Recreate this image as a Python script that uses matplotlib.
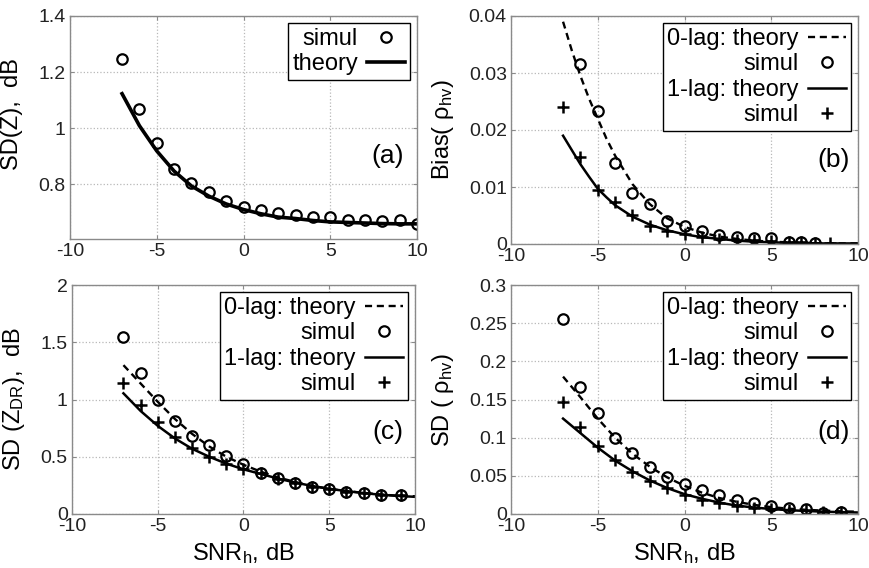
import matplotlib
matplotlib.use("Agg")
import matplotlib.pyplot as plt

plt.rcParams['font.family'] = ['Liberation Sans', 'DejaVu Sans']
plt.rcParams['mathtext.fontset'] = 'custom'
plt.rcParams['mathtext.rm'] = 'Liberation Sans'
plt.rcParams['mathtext.it'] = 'Liberation Sans:italic'

# (a) SD(Z)
a_x = [-7, -6, -5, -4, -3, -2, -1, 0, 1, 2, 3, 4, 5, 6, 7, 8, 9, 10]
a_simul = [1.245, 1.069, 0.949, 0.854, 0.806, 0.773, 0.742, 0.719, 0.708,
           0.698, 0.692, 0.683, 0.683, 0.674, 0.672, 0.668, 0.671, 0.66]
a_theory = [1.123, 1.009, 0.919, 0.847, 0.794, 0.758, 0.730, 0.710, 0.695,
            0.683, 0.678, 0.671, 0.666, 0.664, 0.662, 0.660, 0.659, 0.659]

# (b) Bias(rho_hv)
b_tx = [-7, -6.5, -6, -5.5, -5, -4.5, -4, -3, -2, -1, 0, 1, 2, 3, 4, 5, 6, 7, 8, 10]
b_theory0 = [0.039, 0.034, 0.0295, 0.0255, 0.022, 0.0185, 0.0155, 0.0105, 0.007,
             0.0045, 0.003, 0.002, 0.0013, 0.0009, 0.0006, 0.0004, 0.0003,
             0.0002, 0.0001, 0.0001]
b_theory1 = [0.019, 0.0165, 0.014, 0.0118, 0.0097, 0.0082, 0.0068, 0.0048, 0.0034,
             0.0024, 0.0017, 0.0012, 0.0009, 0.0006, 0.0004, 0.0003, 0.0002,
             0.00015, 0.0001, 0.0001]
b_x0 = [-6, -5, -4, -3, -2, -1, 0, 1, 2, 3, 4, 5, 6, 6.7, 7.5]
b_simul0 = [0.0315, 0.0233, 0.0142, 0.0089, 0.007, 0.004, 0.0032, 0.0022, 0.0016,
            0.0013, 0.0011, 0.0011, 0.0004, 0.0003, 0.0002]
b_x1 = [-7, -6, -5, -4, -3, -2, -1, 0, 1, 2, 3, 4, 5, 6, 6.7, 7.5, 8.4]
b_simul1 = [0.0241, 0.0153, 0.0095, 0.0074, 0.0051, 0.0032, 0.0023, 0.0017, 0.0013,
            0.0008, 0.0007, 0.0007, 0.0005, 0.0003, 0.0003, 0.0002, 0.0002]

# (c) SD(Z_DR)
c_tx = [-7, -6, -5, -4, -3, -2, -1, 0, 1, 2, 3, 4, 5, 6, 7, 8, 9, 10]
c_theory0 = [1.30, 1.14, 0.98, 0.83, 0.70, 0.59, 0.50, 0.43, 0.37, 0.32, 0.28,
             0.245, 0.22, 0.20, 0.185, 0.17, 0.16, 0.155]
c_theory1 = [1.054, 0.90, 0.77, 0.66, 0.57, 0.50, 0.44, 0.39, 0.35, 0.31, 0.275,
             0.245, 0.22, 0.20, 0.183, 0.168, 0.158, 0.15]
c_x = [-7, -6, -5, -4, -3, -2, -1, 0, 1, 2, 3, 4, 5, 6, 7, 8, 9.2]
c_simul0 = [1.549, 1.229, 1.0, 0.812, 0.684, 0.60, 0.507, 0.434, 0.355, 0.312,
            0.273, 0.238, 0.218, 0.195, 0.186, 0.166, 0.166]
c_simul1 = [1.141, 0.952, 0.806, 0.675, 0.574, 0.50, 0.434, 0.39, 0.355, 0.31,
            0.27, 0.235, 0.215, 0.192, 0.185, 0.165, 0.163]

# (d) SD(rho_hv)
d_tx = [-7, -6, -5, -4, -3, -2, -1, 0, 1, 2, 3, 4, 5, 6, 7, 8, 9, 10]
d_theory0 = [0.18, 0.153, 0.125, 0.10, 0.079, 0.062, 0.048, 0.037, 0.028, 0.021,
             0.016, 0.012, 0.009, 0.007, 0.0055, 0.0045, 0.0035, 0.003]
d_theory1 = [0.125, 0.106, 0.087, 0.070, 0.056, 0.044, 0.034, 0.026, 0.020, 0.015,
             0.011, 0.0085, 0.0065, 0.005, 0.004, 0.003, 0.0025, 0.002]
d_x = [-7, -6, -5, -4, -3, -2, -1, 0, 1, 2, 3, 4, 5, 6, 7, 8, 9]
d_simul0 = [0.255, 0.166, 0.132, 0.099, 0.080, 0.061, 0.049, 0.039, 0.031, 0.025,
            0.018, 0.014, 0.011, 0.0083, 0.0062, 0.0017, 0.0026]
d_simul1 = [0.147, 0.114, 0.089, 0.071, 0.0555, 0.0436, 0.0337, 0.0249, 0.0183,
            0.014, 0.0105, 0.0075, 0.0066, 0.0052, 0.0052, 0.0022, 0.0022]

x_ticks = [-10, -5, 0, 5, 10]
x_ticklabels = ['-10', '-5', '0', '5', '10']

W, H = 869, 568
fig = plt.figure(figsize=(W / 100, H / 100), dpi=100)


def make_axes(left, top, right, bottom):
    return fig.add_axes([left / W, 1 - bottom / H, (right - left) / W, (bottom - top) / H])


def style(ax, ylim, yticks, yticklabels):
    ax.set_xlim(-10, 10)
    ax.set_ylim(*ylim)
    ax.set_xticks(x_ticks)
    ax.set_xticklabels(x_ticklabels)
    ax.set_yticks(yticks)
    ax.set_yticklabels(yticklabels)
    ax.grid(True, color='#b8b8b8', linestyle=':', linewidth=0.9)
    ax.set_axisbelow(True)
    for s in ax.spines.values():
        s.set_color('#8a8a8a')
        s.set_linewidth(1.0)
    ax.tick_params(direction='in', length=3, width=0.8, color='#8a8a8a',
                   top=True, right=True, labelsize=14, labelcolor='#222222', pad=3)


mk_circle = dict(linestyle='none', marker='o', markersize=7.5, markerfacecolor='none',
                 markeredgecolor='black', markeredgewidth=1.6)
mk_plus = dict(linestyle='none', marker='+', markersize=9, markeredgecolor='black',
               markeredgewidth=1.8)
dash_style = dict(color='black', linestyle=(0, (3.0, 2.0)), linewidth=1.7)
solid_style = dict(color='black', linestyle='-', linewidth=1.8)

leg_kw = dict(loc='upper right', markerfirst=False, fancybox=False, framealpha=1,
              edgecolor='black', fontsize=17, handlelength=1.6, handletextpad=0.4,
              borderpad=0.2, labelspacing=0.15, borderaxespad=0.3)

# ---- (a)
ax = make_axes(70, 16, 417, 239)
style(ax, (0.605, 1.4), [0.8, 1.0, 1.2, 1.4], ['0.8', '1', '1.2', '1.4'])
h1, = ax.plot(a_x, a_simul, **mk_circle, label='simul')
h2, = ax.plot(a_x, a_theory, color='black', linewidth=2.6, label='theory')
leg = ax.legend(handles=[h1, h2], **leg_kw)
leg.get_frame().set_linewidth(1.0)
ax.text(8.3, 0.9, '(a)', fontsize=19, ha='center', va='center')
ax.set_ylabel('SD(Z),  dB', fontsize=17)
ax.yaxis.set_label_coords(-0.135, 0.56)

# ---- (b)
ax = make_axes(511, 16, 858, 244)
style(ax, (0, 0.04), [0, 0.01, 0.02, 0.03, 0.04], ['0', '0.01', '0.02', '0.03', '0.04'])
h1, = ax.plot(b_tx, b_theory0, **dash_style, label='0-lag: theory')
h2, = ax.plot(b_x0, b_simul0, **mk_circle, label='simul')
h3, = ax.plot(b_tx, b_theory1, **solid_style, label='1-lag: theory')
h4, = ax.plot(b_x1, b_simul1, **mk_plus, label='simul')
leg = ax.legend(handles=[h1, h2, h3, h4], **leg_kw)
leg.get_frame().set_linewidth(1.0)
ax.text(8.6, 0.0148, '(b)', fontsize=19, ha='center', va='center')
ax.set_ylabel('Bias( ρ$_{\\mathrm{hv}}$)', fontsize=17)
ax.yaxis.set_label_coords(-0.158, 0.5)

# ---- (c)
ax = make_axes(72, 285, 415, 514)
style(ax, (0, 2), [0, 0.5, 1, 1.5, 2], ['0', '0.5', '1', '1.5', '2'])
h1, = ax.plot(c_tx, c_theory0, **dash_style, label='0-lag: theory')
h2, = ax.plot(c_x, c_simul0, **mk_circle, label='simul')
h3, = ax.plot(c_tx, c_theory1, **solid_style, label='1-lag: theory')
h4, = ax.plot(c_x, c_simul1, **mk_plus, label='simul')
leg = ax.legend(handles=[h1, h2, h3, h4], **leg_kw)
leg.get_frame().set_linewidth(1.0)
ax.text(8.4, 0.72, '(c)', fontsize=19, ha='center', va='center')
ax.set_ylabel('SD (Z$_{\\mathrm{DR}}$),  dB', fontsize=17)
ax.yaxis.set_label_coords(-0.13, 0.5)
ax.set_xlabel('SNR$_{\\mathrm{h}}$, dB', fontsize=17, labelpad=4)

# ---- (d)
ax = make_axes(511, 285, 858, 514)
style(ax, (0, 0.3), [0, 0.05, 0.1, 0.15, 0.2, 0.25, 0.3],
      ['0', '0.05', '0.1', '0.15', '0.2', '0.25', '0.3'])
h1, = ax.plot(d_tx, d_theory0, **dash_style, label='0-lag: theory')
h2, = ax.plot(d_x, d_simul0, **mk_circle, label='simul')
h3, = ax.plot(d_tx, d_theory1, **solid_style, label='1-lag: theory')
h4, = ax.plot(d_x, d_simul1, **mk_plus, label='simul')
leg = ax.legend(handles=[h1, h2, h3, h4], **leg_kw)
leg.get_frame().set_linewidth(1.0)
ax.text(8.6, 0.107, '(d)', fontsize=19, ha='center', va='center')
ax.set_ylabel('SD ( ρ$_{\\mathrm{hv}}$)', fontsize=17)
ax.yaxis.set_label_coords(-0.158, 0.5)
ax.set_xlabel('SNR$_{\\mathrm{h}}$, dB', fontsize=17, labelpad=4)

fig.savefig('out.png', dpi=100)
